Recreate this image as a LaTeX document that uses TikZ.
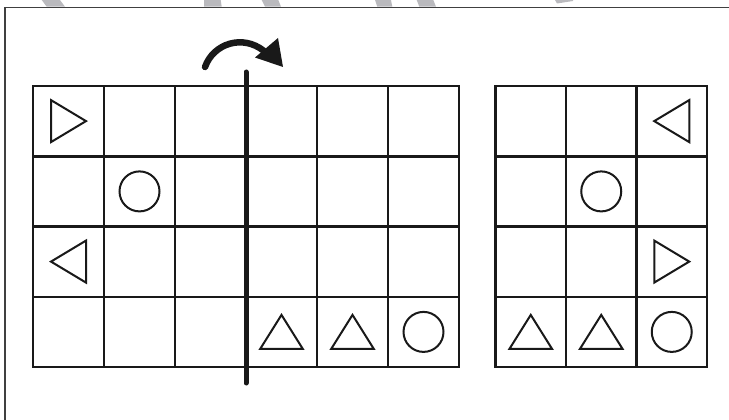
\documentclass[tikz,border=0pt]{standalone}
\begin{document}
\begin{tikzpicture}[x=1pt,y=-1pt,
  gridline/.style={line width=2.5pt,draw=black!90},
  sym/.style={line width=2pt,draw=black!90,line join=miter},
  frameline/.style={line width=1.5pt,draw=black!75},
  wmark/.style={fill=black!25!blue!3!white!75!black},
  foldline/.style={line width=5pt,draw=black!90,line cap=round},
  turnarc/.style={line width=6.5pt,draw=black!90,line cap=round},
  rtri/.pic={\draw[sym] (-17.5,-21)--(-17.5,21)--(17.5,0)--cycle;},
  ltri/.pic={\draw[sym] (17.5,-21)--(17.5,21)--(-17.5,0)--cycle;},
  utri/.pic={\draw[sym] (-21.3,17)--(21.3,17)--(0,-17)--cycle;},
  circ/.pic={\draw[sym] (0,0) circle (20pt);}
]
\useasboundingbox (0,0) rectangle (729,420);
% watermark fragments
\fill[wmark] (41.7,0)--(60,0)--(65,6.7)--(46.7,6.7)--cycle;
\fill[wmark] (204,0)--(220.7,0)--(221.7,6.7)--(204,6.7)--cycle;
\fill[wmark] (261.7,0)--(278.3,0)--(281,6.7)--(265,6.7)--cycle;
\fill[wmark] (375,0)--(391,0)--(392.3,6.7)--(377.3,6.7)--cycle;
\fill[wmark] (416.7,0)--(433.3,0)--(436,6.7)--(419.3,6.7)--cycle;
\fill[wmark] (555,0)--(573,0)--(573,1)--(557,3.5)--cycle;
% frame
\draw[frameline] (5,420)--(5,7.5)--(729,7.5);
% left grid
\draw[gridline] (33,86) rectangle (459,367);
\foreach \x in {104,175,317,388} \draw[gridline] (\x,86)--(\x,367);
\draw[gridline] (246,86)--(246,367);
\foreach \y in {156.25,226.5,296.75} \draw[gridline] (33,\y)--(459,\y);
% right grid
\draw[gridline] (495.5,86) rectangle (707,367);
\foreach \x in {566,636.5} \draw[gridline] (\x,86)--(\x,367);
\foreach \y in {156.25,226.5,296.75} \draw[gridline] (495.5,\y)--(707,\y);
% fold line and turn arrow
\draw[foldline] (246,72)--(246,383);
\draw[turnarc] (205,67) .. controls (213.5,43.3) and (242.8,34) .. (264,51);
\fill[black!90] (255,57.5)--(278,38)--(283,67)--cycle;
% left grid symbols
\pic at (68.5,121.1) {rtri};
\pic at (139.5,191.4) {circ};
\pic at (68.5,261.6) {ltri};
\pic at (281.5,331.9) {utri};
\pic at (352.5,331.9) {utri};
\pic at (423.5,331.9) {circ};
% right grid symbols
\pic at (671.75,121.1) {ltri};
\pic at (601.25,191.4) {circ};
\pic at (671.75,261.6) {rtri};
\pic at (530.75,331.9) {utri};
\pic at (601.25,331.9) {utri};
\pic at (671.75,331.9) {circ};
\end{tikzpicture}
\end{document}
